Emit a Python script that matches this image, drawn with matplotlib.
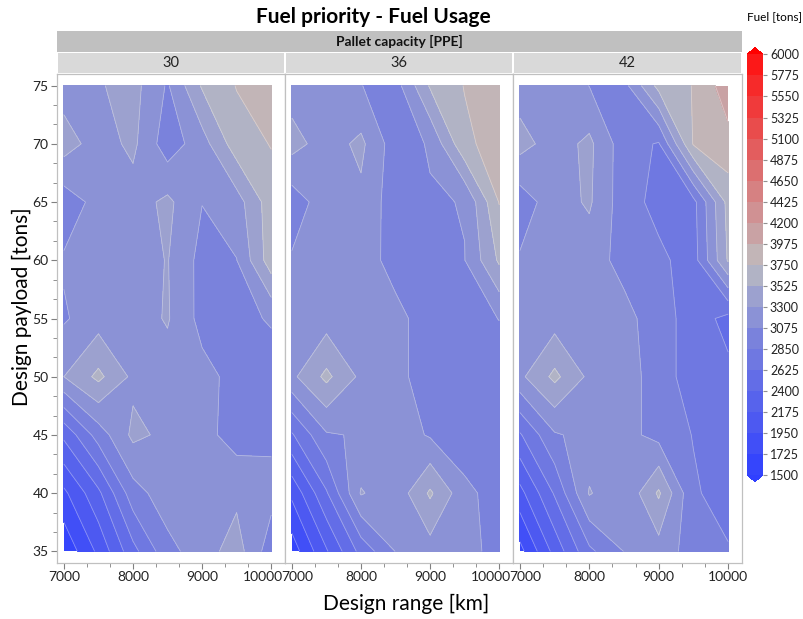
import matplotlib
matplotlib.use('Agg')
import matplotlib.pyplot as plt
import matplotlib.transforms as mtransforms
import numpy as np
from matplotlib.colors import LinearSegmentedColormap, Normalize
from matplotlib.ticker import MultipleLocator

plt.rcParams['font.family'] = ['Lato', 'DejaVu Sans']

# grid of the design study
design_range = [7000, 7500, 8000, 8500, 9000, 9500, 10000]   # km
design_payload = [35, 40, 45, 50, 55, 60, 65, 70, 75]          # tons
pallet_capacity = ['30', '36', '42']                           # PPE

# fuel usage [tons], one row per payload (35 -> 75), one column per range
fuel_30 = [
    [1550, 2000, 2550, 3000, 3200, 3400, 2950],
    [1900, 2350, 2980, 3200, 3200, 3250, 3150],
    [2450, 2950, 3350, 3250, 3150, 2980, 3030],
    [3300, 3580, 3250, 3200, 3150, 3000, 2950],
    [3050, 3200, 3200, 3320, 3000, 3000, 3100],
    [3100, 3200, 3200, 3310, 3000, 3070, 3650],
    [2950, 3150, 3200, 3350, 3080, 3200, 3650],
    [3400, 3200, 3350, 2950, 3200, 3650, 3760],
    [3200, 3280, 3380, 3050, 3550, 3760, 3950],
]
fuel_36 = [
    [1600, 2150, 2700, 3080, 3200, 3150, 3000],
    [2000, 2600, 3320, 3150, 3560, 3150, 2950],
    [2600, 3050, 3100, 3200, 3050, 2900, 2950],
    [3250, 3580, 3250, 3150, 2950, 2900, 2950],
    [3080, 3200, 3200, 3150, 2950, 2980, 3080],
    [3100, 3200, 3200, 2980, 2950, 3070, 3560],
    [2950, 3200, 3250, 2950, 3050, 3085, 3760],
    [3380, 3200, 3350, 2950, 3100, 3700, 3850],
    [3200, 3200, 3080, 2980, 3550, 3760, 3900],
]
fuel_42 = [
    [1650, 2250, 2800, 3080, 3200, 2980, 2870],
    [2100, 2650, 3320, 3100, 3560, 2880, 2750],
    [2600, 3050, 3150, 3150, 3000, 2840, 2750],
    [3250, 3580, 3250, 3200, 2950, 2750, 2680],
    [3080, 3200, 3200, 3150, 2950, 2750, 2550],
    [3100, 3200, 3180, 3000, 2900, 2750, 3550],
    [2950, 3200, 3330, 2950, 2780, 2780, 3600],
    [3380, 3200, 3350, 2950, 2830, 3770, 3900],
    [3200, 3250, 3070, 3000, 3600, 3760, 4100],
]
panels = [fuel_30, fuel_36, fuel_42]

levels = np.arange(1500, 6001, 225)

# blue - gray - red scale, anchored on band centres
anchors = [(1500, '#3040ff'), (2962, '#7a82dc'), (3187, '#8a91d6'), (3412, '#9ca1cf'),
           (3637, '#b1b3c5'), (3862, '#c2b5b7'), (4087, '#c9a3a5'), (6000, '#ff1010')]
cmap = LinearSegmentedColormap.from_list(
    'fuel', [((v - 1500) / 4500, c) for v, c in anchors])
cmap.set_under('#3040ff')
cmap.set_over('#ff0000')
norm = Normalize(1500, 6000)

W, H = 804, 619
fig = plt.figure(figsize=(W / 100, H / 100), dpi=100)

ax_top, ax_bot = 74, 563
lefts = [57, 285, 513]
rights = [285, 513, 742]
X, Y = np.meshgrid(design_range, design_payload)

axes = []
for i, Z in enumerate(panels):
    ax = fig.add_axes([lefts[i] / W, (H - ax_bot) / H,
                       (rights[i] - lefts[i]) / W, (ax_bot - ax_top) / H])
    cs = ax.contourf(X, Y, np.array(Z), levels=levels, cmap=cmap, norm=norm, extend='both')
    ax.contour(X, Y, np.array(Z), levels=levels, colors='white', linewidths=0.6, alpha=0.35)
    ax.set_xlim(6900, 10200)
    ax.set_ylim(34.0, 76.0)
    ax.set_xticks([7000, 8000, 9000, 10000])
    ax.xaxis.set_minor_locator(MultipleLocator(1000 / 3))
    ax.yaxis.set_major_locator(MultipleLocator(5))
    ax.yaxis.set_minor_locator(MultipleLocator(5 / 3))
    ax.tick_params(which='both', direction='out', color='#808080', labelsize=10,
                   labelcolor='#222222', pad=2)
    ax.tick_params(which='major', length=4)
    ax.tick_params(which='minor', length=3)
    if i > 0:
        ax.tick_params(axis='y', which='both', left=False, labelleft=False)
    for s in ax.spines.values():
        s.set_color('#c0c0c0')
        s.set_linewidth(0.9)

    # nudge the edge labels so neighbouring panels don't collide
    labels = ax.get_xticklabels()
    if i < 2:
        labels[-1].set_transform(labels[-1].get_transform() +
                                 mtransforms.ScaledTranslation(-0.08, 0, fig.dpi_scale_trans))
    if i > 0:
        labels[0].set_transform(labels[0].get_transform() +
                                mtransforms.ScaledTranslation(0.05, 0, fig.dpi_scale_trans))
    axes.append(ax)

    # value strip
    sax = fig.add_axes([(lefts[i] + 1) / W, (H - 73) / H,
                        (rights[i] - lefts[i] - 2) / W, 20 / H])
    sax.set_facecolor('#d9d9d9')
    sax.set_xticks([])
    sax.set_yticks([])
    for s in sax.spines.values():
        s.set_visible(False)
    sax.text(0.5, 0.5, pallet_capacity[i], ha='center', va='center', fontsize=10.5,
             color='#222222', transform=sax.transAxes)

# top strip
tax = fig.add_axes([57 / W, (H - 52) / H, 685 / W, 21 / H])
tax.set_facecolor('#c0c0c0')
tax.set_xticks([])
tax.set_yticks([])
for s in tax.spines.values():
    s.set_visible(False)
tax.text(0.5, 0.5, 'Pallet capacity [PPE]', ha='center', va='center', fontsize=10,
         fontweight='bold', color='#111111', transform=tax.transAxes)

fig.text(373 / W, (H - 17) / H, 'Fuel priority - Fuel Usage', ha='center', va='center',
         fontsize=15, fontweight='bold')
fig.text(22 / W, (H - 307) / H, 'Design payload [tons]', ha='center', va='center',
         rotation=90, fontsize=15)
fig.text(406 / W, (H - 604) / H, 'Design range [km]', ha='center', va='center',
         fontsize=15)

# colorbar
cax = fig.add_axes([747 / W, (H - 481.7) / H, 16 / W, 434 / H])
cb = fig.colorbar(cs, cax=cax, ticks=levels, extendfrac=0.016)
cb.outline.set_visible(False)
cb.ax.tick_params(labelsize=9, length=3, color='#909090', labelcolor='#222222', pad=2)
fig.text(775 / W, (H - 17) / H, 'Fuel [tons]', ha='center', va='center', fontsize=8.5)

fig.savefig('out.png', dpi=100)
